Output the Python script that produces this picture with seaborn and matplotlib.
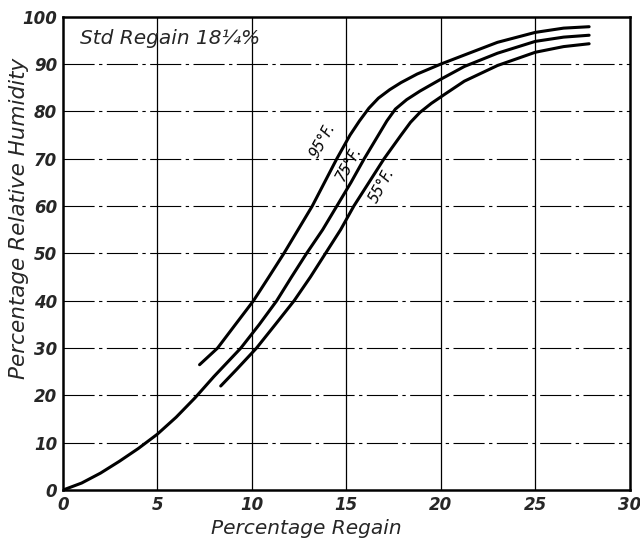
import matplotlib
matplotlib.use("Agg")
import matplotlib.pyplot as plt
import seaborn as sns
import pandas as pd

# regain (%) vs relative humidity (%)
regain_95 = [7.24, 8.19, 9.1, 10.09, 10.9, 11.7, 12.45, 13.2, 13.85, 14.5, 15.2, 15.7,
             16.2, 16.7, 17.3, 17.9, 18.75, 20.0, 21.3, 23.0, 25.0, 26.5, 27.85]
rh_95 = [26.5, 30, 34.8, 40, 45, 50, 55, 60, 65, 70, 75, 78,
         80.7, 82.8, 84.6, 86.1, 87.9, 90, 92, 94.6, 96.7, 97.6, 97.9]

regain_75 = [0, 1, 2, 3, 4, 5, 6, 7, 8, 9.42, 10.4, 11.32, 12.1, 12.9, 13.75, 14.5,
             15.25, 15.95, 16.7, 17.15, 17.6, 18.2, 18.9, 20.0, 21.25, 23.0, 25.0, 26.5, 27.85]
rh_75 = [0, 1.5, 3.6, 6.1, 8.8, 11.8, 15.4, 19.5, 24, 30, 35, 40, 45, 50, 55, 60,
         65, 70, 75, 78, 80.5, 82.5, 84.3, 86.8, 89.5, 92.3, 94.8, 95.7, 96.1]

regain_55 = [8.36, 9.2, 10.25, 11.25, 12.24, 13.1, 13.9, 14.7, 15.4, 16.2, 17.0,
             17.9, 18.4, 18.9, 19.5, 20.2, 21.25, 23.0, 25.0, 26.5, 27.85]
rh_55 = [22, 25.5, 30, 35, 40, 45, 50, 55, 60, 65, 70,
         75, 77.7, 79.8, 81.7, 83.6, 86.4, 89.7, 92.5, 93.7, 94.3]

temps = ["95°F.", "75°F.", "55°F."]
label_pos = [(13.75, 73.8), (15.15, 69.0), (16.9, 64.3)]

x_ticks = [0, 5, 10, 15, 20, 25, 30]
y_ticks = [0, 10, 20, 30, 40, 50, 60, 70, 80, 90, 100]

sns.set_style("white")
plt.rcParams['font.family'] = ['DejaVu Sans']

fig = plt.figure(figsize=(6.4, 5.41), dpi=100)
ax = fig.add_axes([0.098, 0.094, 0.886, 0.875])

# grid: solid verticals, broken horizontals
for xv in x_ticks[1:-1]:
    ax.axvline(xv, color="black", lw=0.9, zorder=1)
for yv in y_ticks[1:-1]:
    ax.axhline(yv, color="black", lw=0.8, dashes=(28, 4, 3, 4), zorder=1)

for xs, ys in [(regain_95, rh_95), (regain_75, rh_75), (regain_55, rh_55)]:
    d = pd.DataFrame({"regain": xs, "rh": ys})
    sns.lineplot(data=d, x="regain", y="rh", sort=False, color="black",
                 lw=2.2, ax=ax, zorder=3)

for t, (lx, ly) in zip(temps, label_pos):
    ax.text(lx, ly, t, rotation=61, ha="center", va="center", fontsize=10.5,
            style="italic", color="black", zorder=4)

ax.text(0.9, 95.5, "Std Regain 18¼%", fontsize=14.5, style="italic",
        ha="left", va="center")

ax.set_xlim(0, 30)
ax.set_ylim(0, 100)
ax.set_xticks(x_ticks)
ax.set_yticks(y_ticks)
ax.set_xticklabels([str(v) for v in x_ticks], fontsize=12, style="italic", fontweight="bold")
ax.set_yticklabels([str(v) for v in y_ticks], fontsize=12, style="italic", fontweight="bold")
ax.tick_params(length=0, pad=4)

ax.set_xlabel("Percentage Regain", fontsize=14.5, style="italic")
ax.set_ylabel("Percentage Relative Humidity", fontsize=15.5, style="italic")
ax.xaxis.set_label_coords(0.43, -0.06)
ax.yaxis.set_label_coords(-0.06, 0.575)

for s in ax.spines.values():
    s.set_visible(True)
    s.set_color("black")
    s.set_linewidth(1.8)

fig.savefig("out.png", dpi=100)
